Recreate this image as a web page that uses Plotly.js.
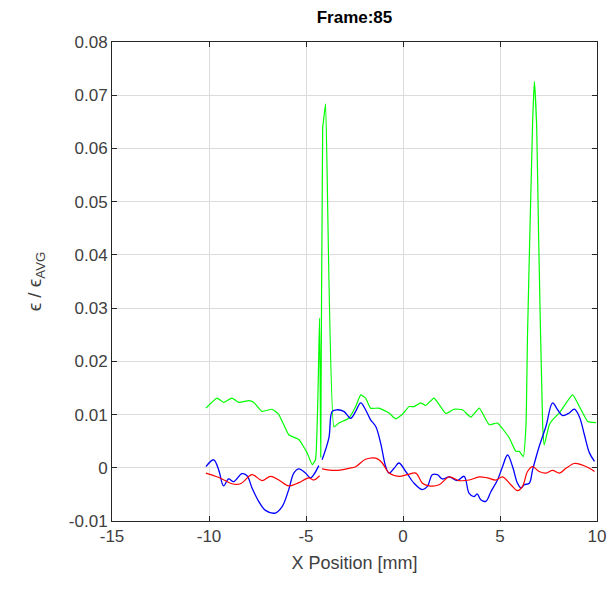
<!DOCTYPE html>
<html>
<head>
<meta charset="utf-8">
<script src="https://cdn.plot.ly/plotly-3.0.1.min.js"></script>
<style>html,body{margin:0;padding:0;background:#fff;}</style>
</head>
<body>
<div id="chart" style="width:610px;height:595px;"></div>
<script>
const greenX = [-10.16,-9.59,-9.25,-8.82,-8.47,-7.95,-7.70,-7.27,-6.75,-6.40,-5.89,-5.37,-4.94,-4.68,-4.51,-4.30,-4.24,-4.14,-4.11,-3.99,-3.56,-3.31,-2.79,-2.44,-2.18,-1.93,-1.67,-1.24,-0.72,-0.38,-0.04,0.31,0.57,0.91,1.17,1.60,2.21,2.63,3.06,3.50,3.93,4.44,4.87,5.48,5.82,5.99,6.20,6.34,6.42,6.68,6.77,6.89,6.99,7.20,7.28,7.54,7.71,8.06,8.74,9.18,9.52,9.95];
const greenY = [0.0112,0.0131,0.0123,0.0131,0.0123,0.0126,0.0123,0.0106,0.0110,0.0100,0.0062,0.0053,0.0028,0.0006,0.0015,0.0281,0.0020,0.0640,0.0648,0.0684,0.0077,0.0084,0.0093,0.0115,0.0137,0.0131,0.0112,0.0112,0.0103,0.0092,0.0100,0.0115,0.0115,0.0122,0.0117,0.0131,0.0102,0.0110,0.0109,0.0095,0.0112,0.0081,0.0084,0.0056,0.0031,0.0031,0.0021,0.0081,0.0253,0.0648,0.0726,0.0642,0.0435,0.0078,0.0043,0.0081,0.0090,0.0103,0.0137,0.0109,0.0087,0.0085];

const blueX = [-10.16,-9.76,-9.50,-9.25,-8.99,-8.73,-8.30,-8.04,-7.78,-7.44,-7.09,-6.58,-6.23,-5.89,-5.63,-5.37,-5.03,-4.77,-4.60,-4.34,null,-4.17,-3.82,-3.65,-3.39,-3.05,-2.70,-2.44,-2.18,-1.93,-1.67,-1.41,-1.15,-0.89,-0.72,-0.46,-0.21,0.14,0.57,1.00,1.26,1.51,1.77,2.03,2.38,2.80,3.15,3.41,3.67,3.82,4.01,4.27,4.53,4.87,5.13,5.39,5.65,5.90,6.08,6.25,6.51,6.68,7.02,7.37,7.71,7.97,8.23,8.57,8.83,9.09,9.35,9.61,9.87];
const blueY = [0.0002,0.0015,-0.0004,-0.0034,-0.0021,-0.0026,-0.0011,-0.0015,-0.0038,-0.0063,-0.0080,-0.0085,-0.0073,-0.0041,-0.0010,-0.0002,-0.0010,-0.0019,-0.0013,0.0004,null,0.0015,0.0056,0.0106,0.0109,0.0106,0.0093,0.0106,0.0122,0.0109,0.0090,0.0078,0.0046,0.0002,-0.0010,-0.0001,0.0009,-0.0007,-0.0029,-0.0041,-0.0035,-0.0013,-0.0013,-0.0021,-0.0017,-0.0024,-0.0016,-0.0048,-0.0054,-0.0049,-0.0060,-0.0063,-0.0045,-0.0023,0.0002,0.0024,0.0002,-0.0029,-0.0038,-0.0032,-0.0029,-0.0004,0.0040,0.0078,0.0122,0.0109,0.0098,0.0103,0.0110,0.0096,0.0062,0.0028,0.0012];

const redX = [-10.16,-9.67,-9.33,-8.82,-8.38,-7.78,-7.27,-6.83,-6.40,-5.89,-5.37,-4.86,-4.60,-4.30,null,-4.17,-3.48,-2.79,-2.44,-1.93,-1.41,-1.07,-0.72,-0.21,0.22,0.66,1.00,1.34,1.86,2.38,2.89,3.41,3.93,4.35,4.79,5.13,5.56,5.90,6.16,6.42,6.68,7.02,7.37,7.71,8.06,8.40,8.83,9.18,9.61,9.87];
const redY = [-0.0010,-0.0016,-0.0021,-0.0030,-0.0030,-0.0013,-0.0024,-0.0016,-0.0023,-0.0034,-0.0028,-0.0019,-0.0023,-0.0015,null,-0.0002,-0.0005,-0.0001,0.0002,0.0016,0.0018,0.0009,-0.0010,-0.0016,-0.0013,-0.0010,-0.0029,-0.0034,-0.0032,-0.0017,-0.0024,-0.0023,-0.0017,-0.0019,-0.0023,-0.0017,-0.0032,-0.0043,-0.0035,-0.0007,0.0002,-0.0007,-0.0010,-0.0005,-0.0010,-0.0001,0.0008,0.0006,-0.0001,-0.0007];

const xTicks = [-15,-10,-5,0,5,10];
const yTicks = [-0.01,0,0.01,0.02,0.03,0.04,0.05,0.06,0.07,0.08];
const yTickText = ['-0.01','0','0.01','0.02','0.03','0.04','0.05','0.06','0.07','0.08'];

const traces = [
  {x: greenX, y: greenY, mode: 'lines', line: {color: '#00ff00', width: 1.2, shape: 'spline', smoothing: 0.4}, connectgaps: false},
  {x: blueX, y: blueY, mode: 'lines', line: {color: '#0000ff', width: 1.3, shape: 'spline', smoothing: 1}, connectgaps: false},
  {x: redX, y: redY, mode: 'lines', line: {color: '#ff0000', width: 1.2, shape: 'spline', smoothing: 1}, connectgaps: false}
];

const FF = 'Liberation Sans, Arial, sans-serif';
const axisFont = {family: FF, size: 17, color: '#404040'};

const layout = {
  width: 610, height: 595,
  margin: {l: 112, r: 13, t: 42, b: 74},
  paper_bgcolor: '#ffffff', plot_bgcolor: '#ffffff',
  showlegend: false,
  title: {text: '<b>Frame:85</b>', x: 0.5, xref: 'paper', y: 0.971, yanchor: 'middle',
          font: {family: FF, size: 17, color: '#000000'}},
  xaxis: {
    range: [-15, 10], tickvals: xTicks, ticktext: xTicks.map(String),
    showgrid: true, gridcolor: '#dcdcdc', gridwidth: 1,
    zeroline: false, showline: true, linecolor: '#262626', linewidth: 1, mirror: 'ticks',
    ticks: 'inside', ticklen: 5, tickcolor: '#262626',
    tickfont: axisFont,
    title: {text: 'X Position [mm]', font: {family: FF, size: 18, color: '#404040'}, standoff: 10}
  },
  yaxis: {
    range: [-0.01, 0.08], tickvals: yTicks, ticktext: yTickText,
    showgrid: true, gridcolor: '#dcdcdc', gridwidth: 1,
    zeroline: false, showline: true, linecolor: '#262626', linewidth: 1, mirror: 'ticks',
    ticks: 'inside', ticklen: 5, tickcolor: '#262626',
    tickfont: axisFont,
    title: {text: 'ϵ / ϵ<sub>AVG</sub>', font: {family: FF, size: 19, color: '#404040'}, standoff: 22}
  }
};

Plotly.newPlot('chart', traces, layout, {displayModeBar: false, staticPlot: true});
</script>
</body>
</html>
